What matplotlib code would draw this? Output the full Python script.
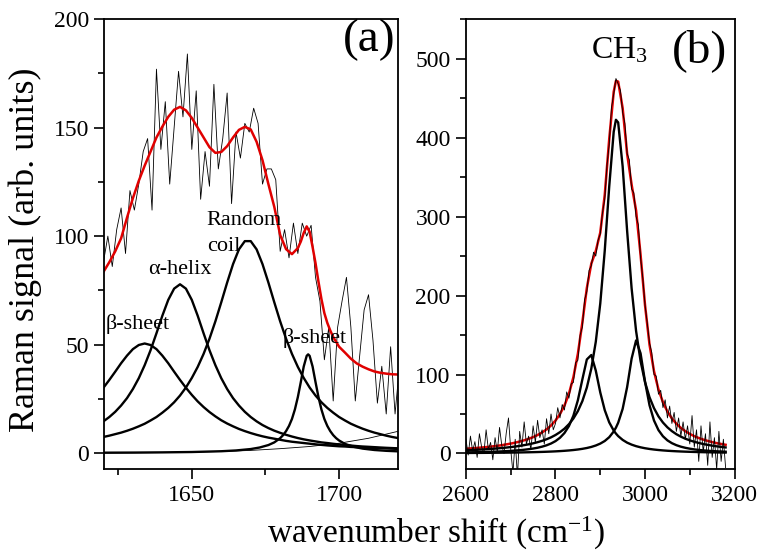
import numpy as np
import matplotlib
matplotlib.use("Agg")
import matplotlib.pyplot as plt
from matplotlib.ticker import MultipleLocator

plt.rcParams['font.family'] = ['Liberation Serif', 'DejaVu Serif']
plt.rcParams['mathtext.fontset'] = 'custom'
plt.rcParams['mathtext.rm'] = 'Liberation Serif'
plt.rcParams['mathtext.it'] = 'Liberation Serif:italic'

# ---- panel (a): amide I region ----
xa_noisy = np.arange(1620, 1721, 1.5)
ya_noisy = [88, 100, 86, 103, 113, 92, 121, 112, 124, 139, 145, 112, 177, 140, 162, 124, 150, 176,
            155, 184, 140, 167, 117, 139, 123, 170, 131, 145, 166, 115, 148, 136, 152, 148, 159, 152,
            124, 131, 131, 126, 93, 103, 90, 106, 92, 106, 100, 105, 81, 70, 43, 58, 24, 58, 70, 81,
            58, 24, 45, 66, 73, 52, 23, 40, 18, 49, 18, 40]

xa_fit = [1620, 1622, 1624, 1626, 1628, 1630, 1632, 1634, 1636, 1638, 1640, 1642, 1644, 1646, 1648,
          1650, 1652, 1654, 1656, 1658, 1660, 1662, 1664, 1666, 1668, 1670, 1672, 1674, 1676, 1678,
          1680, 1682, 1684, 1686, 1687, 1688, 1689, 1690, 1691, 1692, 1693, 1694, 1695, 1696, 1697,
          1698, 1700, 1702, 1704, 1706, 1708, 1710, 1712, 1714, 1716, 1718, 1720]
ya_fit = [83.5, 88, 93, 99, 108.5, 117.5, 125.5, 132.5, 139, 145.5, 150.5, 155, 158.3, 159.6, 158,
          154.5, 150, 145.5, 141, 138.4, 138.8, 141.5, 145.5, 149, 150.4, 149.2, 143.5, 135, 124, 113.5,
          100.5, 94, 91.7, 94.5, 97.5, 101.5, 104.5, 102, 95, 87.5, 79, 71, 64.5, 60, 56.5,
          53.5, 49, 46.3, 43.5, 41.3, 39.8, 38.6, 37.6, 37, 36.6, 36.3, 36.2]

xa_comp = np.arange(1620, 1721, 2)
beta_sheet1 = [30.1, 33.7, 37.5, 41.4, 44.9, 47.9, 49.8, 50.5, 49.8, 47.9, 44.9, 41.4, 37.5, 33.7, 30.1,
               26.8, 23.8, 21.2, 18.9, 16.9, 15.1, 13.6, 12.3, 11.1, 10.1, 9.2, 8.4, 7.7, 7.1, 6.6, 6.1,
               5.6, 5.2, 4.9, 4.6, 4.3, 4.0, 3.75, 3.5, 3.3, 3.1, 3.0, 2.8, 2.7, 2.5, 2.4, 2.3, 2.2, 2.1,
               2.0, 1.9]
alpha_helix = [14.6, 16.6, 19.0, 21.9, 25.3, 29.5, 34.5, 40.5, 47.4, 55.2, 63.3, 70.6, 75.8, 77.8, 75.8,
               70.6, 63.3, 55.2, 47.4, 40.5, 34.5, 29.5, 25.3, 21.9, 19.0, 16.6, 14.6, 12.9, 11.5, 10.3,
               9.3, 8.4, 7.6, 6.9, 6.3, 5.8, 5.35, 4.9, 4.6, 4.25, 3.96, 3.7, 3.45, 3.2, 3.0, 2.86, 2.7,
               2.54, 2.4, 2.28, 2.16]
random_coil = [7.4, 8.0, 8.7, 9.4, 10.25, 11.2, 12.3, 13.5, 15.0, 16.6, 18.6, 20.8, 23.4, 26.5, 30.2,
               34.6, 39.7, 45.7, 52.7, 60.7, 69.5, 78.6, 87.1, 93.9, 97.7, 97.7, 93.9, 87.1, 78.6, 69.5,
               60.7, 52.7, 45.7, 39.7, 34.6, 30.2, 26.5, 23.4, 20.8, 18.6, 16.6, 15.0, 13.5, 12.3, 11.2,
               10.25, 9.4, 8.7, 8.0, 7.4, 6.9]

xa_beta2 = [1620, 1630, 1640, 1650, 1660, 1665, 1670, 1673, 1676, 1678, 1680, 1681, 1682, 1683, 1684,
            1685, 1686, 1687, 1688, 1689, 1689.5, 1690, 1691, 1692, 1693, 1694, 1695, 1696, 1697, 1698,
            1699, 1700, 1702, 1705, 1708, 1712, 1716, 1720]
beta_sheet2 = [0.15, 0.2, 0.3, 0.46, 0.82, 1.18, 1.83, 2.53, 3.67, 4.9, 6.85, 8.25, 10.1, 12.5, 15.7,
               20.1, 25.8, 32.7, 39.9, 44.8, 45.5, 44.8, 39.9, 32.7, 25.8, 20.1, 15.7, 12.5, 10.1, 8.25,
               6.85, 5.77, 4.2, 2.84, 2.03, 1.39, 1.01, 0.77]

xa_base = [1620, 1640, 1660, 1670, 1680, 1690, 1700, 1710, 1720]
ya_base = [0, 0.2, 0.7, 1.2, 2.0, 3.0, 4.5, 6.8, 10]

# ---- panel (b): CH3 stretch region ----
xb_noisy = np.arange(2600, 3181, 5)
yb_noisy = [18, -2, 22, 3, 15, -5, 25, 8, 0, 30, 5, 14, -8, 20, 2, 33, 10, 0, 26, 45,
            5, -25, 18, -30, 28, 8, 40, 12, 22, 5, 35, 14, 42, 20, 30, 12, 44, 25, 50, 30,
            38, 58, 45, 62, 55, 78, 70, 88, 90, 115, 118, 150, 160, 195, 205, 232, 238, 255, 250, 270,
            278, 305, 322, 365, 392, 438, 455, 475, 468, 460, 432, 418, 380, 372, 335, 330, 300, 290, 248, 222,
            188, 165, 140, 128, 100, 98, 75, 80, 58, 68, 45, 60, 38, 52, 28, 45, 22, 40, 18, 35,
            12, 48, 8, 30, -10, 35, 2, 25, -15, 40, -5, 20, -20, 28, -10, 18, -18]

xb_comp = [2600, 2610, 2620, 2630, 2640, 2650, 2660, 2670, 2680, 2690, 2700, 2710, 2720, 2730, 2740,
           2750, 2760, 2770, 2780, 2790, 2800, 2810, 2820, 2830, 2840, 2850, 2860, 2870, 2880, 2890,
           2900, 2910, 2920, 2930, 2935, 2940, 2950, 2960, 2970, 2980, 2990, 3000, 3010, 3020, 3030,
           3040, 3050, 3060, 3070, 3080, 3090, 3100, 3110, 3120, 3130, 3140, 3150, 3160, 3170, 3180]
ch3_main = [4.04, 4.28, 4.55, 4.85, 5.18, 5.54, 5.95, 6.39, 6.89, 7.45, 8.09, 8.80, 9.61, 10.54, 11.61,
            12.85, 14.29, 16.0, 18.0, 20.4, 23.4, 27.0, 31.4, 37.1, 44.3, 53.7, 66.3, 83.5, 107.5, 141.5,
            190.0, 256.8, 338.1, 407.4, 422.7, 419.3, 363.7, 281.9, 209.3, 155.2, 117.1, 90.3, 71.2, 57.4, 47.0,
            39.2, 33.1, 28.3, 24.4, 21.3, 18.7, 16.6, 14.8, 13.3, 12.0, 10.9, 9.9, 9.05, 8.3, 7.65]
ch_left = [1.37, 1.47, 1.58, 1.71, 1.86, 2.02, 2.21, 2.43, 2.67, 2.96, 3.29, 3.69, 4.16, 4.72, 5.40,
           6.23, 7.26, 8.62, 10.34, 12.6, 15.65, 19.9, 25.9, 34.7, 47.9, 67.5, 93.8, 119.1, 124.7, 104.9,
           77.3, 54.9, 39.4, 29.0, 25.2, 22.0, 17.2, 13.7, 11.2, 9.26, 7.79, 6.63, 5.72, 4.98, 4.37,
           3.87, 3.44, 3.09, 2.78, 2.52, 2.29, 2.10, 1.92, 1.77, 1.63, 1.51, 1.41, 1.31, 1.22, 1.14]
ch_right = [0.61, 0.65, 0.69, 0.73, 0.77, 0.82, 0.87, 0.92, 0.98, 1.05, 1.13, 1.21, 1.30, 1.41, 1.53,
            1.66, 1.81, 1.99, 2.19, 2.41, 2.68, 3.0, 3.38, 3.83, 4.37, 5.04, 5.87, 6.92, 8.28, 10.1,
            12.5, 15.8, 20.6, 27.8, 32.7, 38.9, 56.5, 84.1, 120.1, 143.2, 126.9, 90.9, 61.1, 41.8, 29.6,
            21.8, 16.6, 13.05, 10.5, 8.6, 7.17, 6.06, 5.19, 4.49, 3.93, 3.46, 3.07, 2.74, 2.47, 2.23]
ch_fit = [6.0, 6.4, 6.8, 7.3, 7.8, 8.4, 9.0, 9.7, 10.5, 11.5, 12.5, 13.7, 15.1, 16.7, 18.5,
          20.7, 23.4, 26.6, 30.5, 35.4, 41.7, 49.9, 60.7, 75.6, 96.6, 126.2, 166.0, 209.5, 240.5, 256.5,
          279.8, 327.5, 398.1, 458, 472, 471, 437.4, 379.7, 340.6, 307.7, 251.8, 187.8, 138.0, 104.2, 81.0,
          64.9, 53.1, 44.4, 37.7, 32.4, 28.2, 24.8, 21.9, 19.6, 17.6, 15.9, 14.4, 13.1, 12.0, 11.0]

red = '#e00000'
comp_lw = 1.7

fig = plt.figure(figsize=(7.62, 5.57), dpi=100)
ax1 = fig.add_axes([0.1369, 0.1571, 0.3858, 0.8083])
ax2 = fig.add_axes([0.6115, 0.1571, 0.3525, 0.8083])

# panel (a)
ax1.plot(xa_noisy, ya_noisy, color='black', lw=0.6)
ax1.plot(xa_fit, ya_fit, color=red, lw=1.8)
ax1.plot(xa_base, ya_base, color='black', lw=0.6)
ax1.plot(xa_comp, beta_sheet1, color='black', lw=comp_lw)
ax1.plot(xa_comp, alpha_helix, color='black', lw=comp_lw)
ax1.plot(xa_comp, random_coil, color='black', lw=comp_lw)
ax1.plot(xa_beta2, beta_sheet2, color='black', lw=comp_lw)

ax1.set_xlim(1620.3, 1720.1)
ax1.set_ylim(-7.6, 200)
ax1.xaxis.set_major_locator(MultipleLocator(50))
ax1.xaxis.set_minor_locator(MultipleLocator(25))
ax1.yaxis.set_major_locator(MultipleLocator(50))
ax1.yaxis.set_minor_locator(MultipleLocator(25))

ax1.text(1620.8, 59.5, 'β-sheet', fontsize=16, ha='left', va='center')
ax1.text(1635.3, 84.5, 'α-helix', fontsize=16, ha='left', va='center')
ax1.text(1654.8, 107, 'Random', fontsize=16, ha='left', va='center')
ax1.text(1655.1, 95, 'coil', fontsize=16, ha='left', va='center')
ax1.text(1681.0, 53.2, 'β-sheet', fontsize=16, ha='left', va='center')
ax1.text(0.90, 0.955, '(a)', transform=ax1.transAxes, fontsize=34, ha='center', va='center')

# panel (b)
ax2.plot(xb_comp, ch_fit, color=red, lw=1.8)
ax2.plot(xb_noisy, yb_noisy, color='black', lw=0.6)
ax2.plot(xb_comp, ch3_main, color='black', lw=comp_lw)
ax2.plot(xb_comp, ch_left, color='black', lw=comp_lw)
ax2.plot(xb_comp, ch_right, color='black', lw=comp_lw)

ax2.set_xlim(2600, 3200)
ax2.set_ylim(-20.3, 550)
ax2.xaxis.set_major_locator(MultipleLocator(200))
ax2.xaxis.set_minor_locator(MultipleLocator(100))
ax2.yaxis.set_major_locator(MultipleLocator(100))
ax2.yaxis.set_minor_locator(MultipleLocator(50))

ax2.text(0.57, 0.93, 'CH$_3$', transform=ax2.transAxes, fontsize=23, ha='center', va='center')
ax2.text(0.871, 0.93, '(b)', transform=ax2.transAxes, fontsize=34, ha='center', va='center')

for ax in (ax1, ax2):
    for sp in ax.spines.values():
        sp.set_linewidth(1.3)
    ax.tick_params(which='both', direction='out', top=False, right=False, width=1.2, labelsize=17)
    ax.tick_params(which='major', length=7, pad=4)
    ax.tick_params(which='minor', length=4)

fig.text(0.033, 0.551, 'Raman signal (arb. units)', rotation=90, fontsize=26,
         ha='center', va='center')
fig.text(0.572, 0.043, 'wavenumber shift (cm$^{-1}$)', fontsize=24, ha='center', va='center')

fig.savefig('out.png', dpi=100)
